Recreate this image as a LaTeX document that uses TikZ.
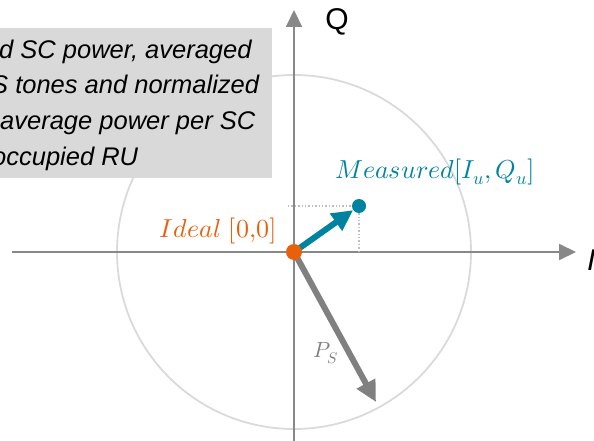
\documentclass[tikz,border=0pt]{standalone}
\usepackage{fontspec}
\usepackage{unicode-math}
\setsansfont{Liberation Sans}
\setmathfont{Latin Modern Math}
\usetikzlibrary{arrows.meta,positioning}
\definecolor{axisgray}{RGB}{136,136,136}
\definecolor{ringgray}{RGB}{218,218,218}
\definecolor{notegray}{RGB}{217,217,217}
\definecolor{guidegray}{RGB}{190,190,190}
\definecolor{psgray}{RGB}{128,128,128}
\definecolor{measteal}{RGB}{0,131,161}
\definecolor{idealorange}{RGB}{232,96,12}

\begin{document}
\begin{tikzpicture}[x=1pt,y=-1pt,
  axis/.style={draw=axisgray,line width=2pt,-{Triangle[length=17pt,width=16pt]}},
  ring/.style={draw=ringgray,line width=1.8pt},
  guide/.style={draw=guidegray,line width=1.4pt,dotted},
  vecarrow/.style={line width=6pt,-{Triangle[length=21pt,width=20pt]}},
  dot/.style={circle,inner sep=0pt,draw=none},
  mathlbl/.style={inner sep=0pt,font=\fontsize{26}{30}\selectfont},
  every node/.style={inner sep=0pt}]
\useasboundingbox (0,0) rectangle (594,441);
\clip (0,0) rectangle (594,441);
\coordinate (o) at (294,252);
\coordinate (xl) at (12,252);
\coordinate (xr) at (576,252);
\coordinate (yb) at (294,445);
\coordinate (yt) at (294,10);
\coordinate (ps) at (376,402);
\coordinate (mp) at (359,206);
\draw[ring] (o) circle (177pt);
\fill[notegray] (-5,28) rectangle (272,178);
\node[anchor=north west,align=left,font=\sffamily\itshape\fontsize{25.5}{35.7}\selectfont] (note) at (-1,39.5)
  {d SC power, averaged\\ \hspace*{-8pt}S tones and normalized\\ \hspace*{1pt}average power per SC\\ \hspace*{-7pt}occupied RU};
\draw[axis] (xl) -- (xr);
\draw[axis] (yb) -- (yt);
\node[font=\sffamily\fontsize{30}{34}\selectfont] (qlbl) at (337,22) {Q};
\node[anchor=base west,font=\sffamily\itshape\fontsize{30}{34}\selectfont] (ilbl) at (587,270) {I};
\draw[guide] (288,206) -- (mp) -- (mp |- o);
\node[dot,fill=measteal,minimum size=14pt] (meas) at (mp) {};
\draw[vecarrow,draw=psgray,fill=psgray] (o) -- (ps);
\draw[vecarrow,draw=measteal,fill=measteal] (o) -- (meas);
\node[dot,fill=idealorange,minimum size=16pt] (ideal) at (o) {};
\node[mathlbl,anchor=base east,text=idealorange] (ideallbl) at (277,237) {$Ideal\ [0{,}0]$};
\node[mathlbl,anchor=base west,text=measteal] (measlbl) at (335,178) {$Measured[I_u,Q_u]$};
\node[font=\fontsize{22}{26}\selectfont,text=psgray] (pslbl) at (326,353) {$P_S$};
\end{tikzpicture}
\end{document}
